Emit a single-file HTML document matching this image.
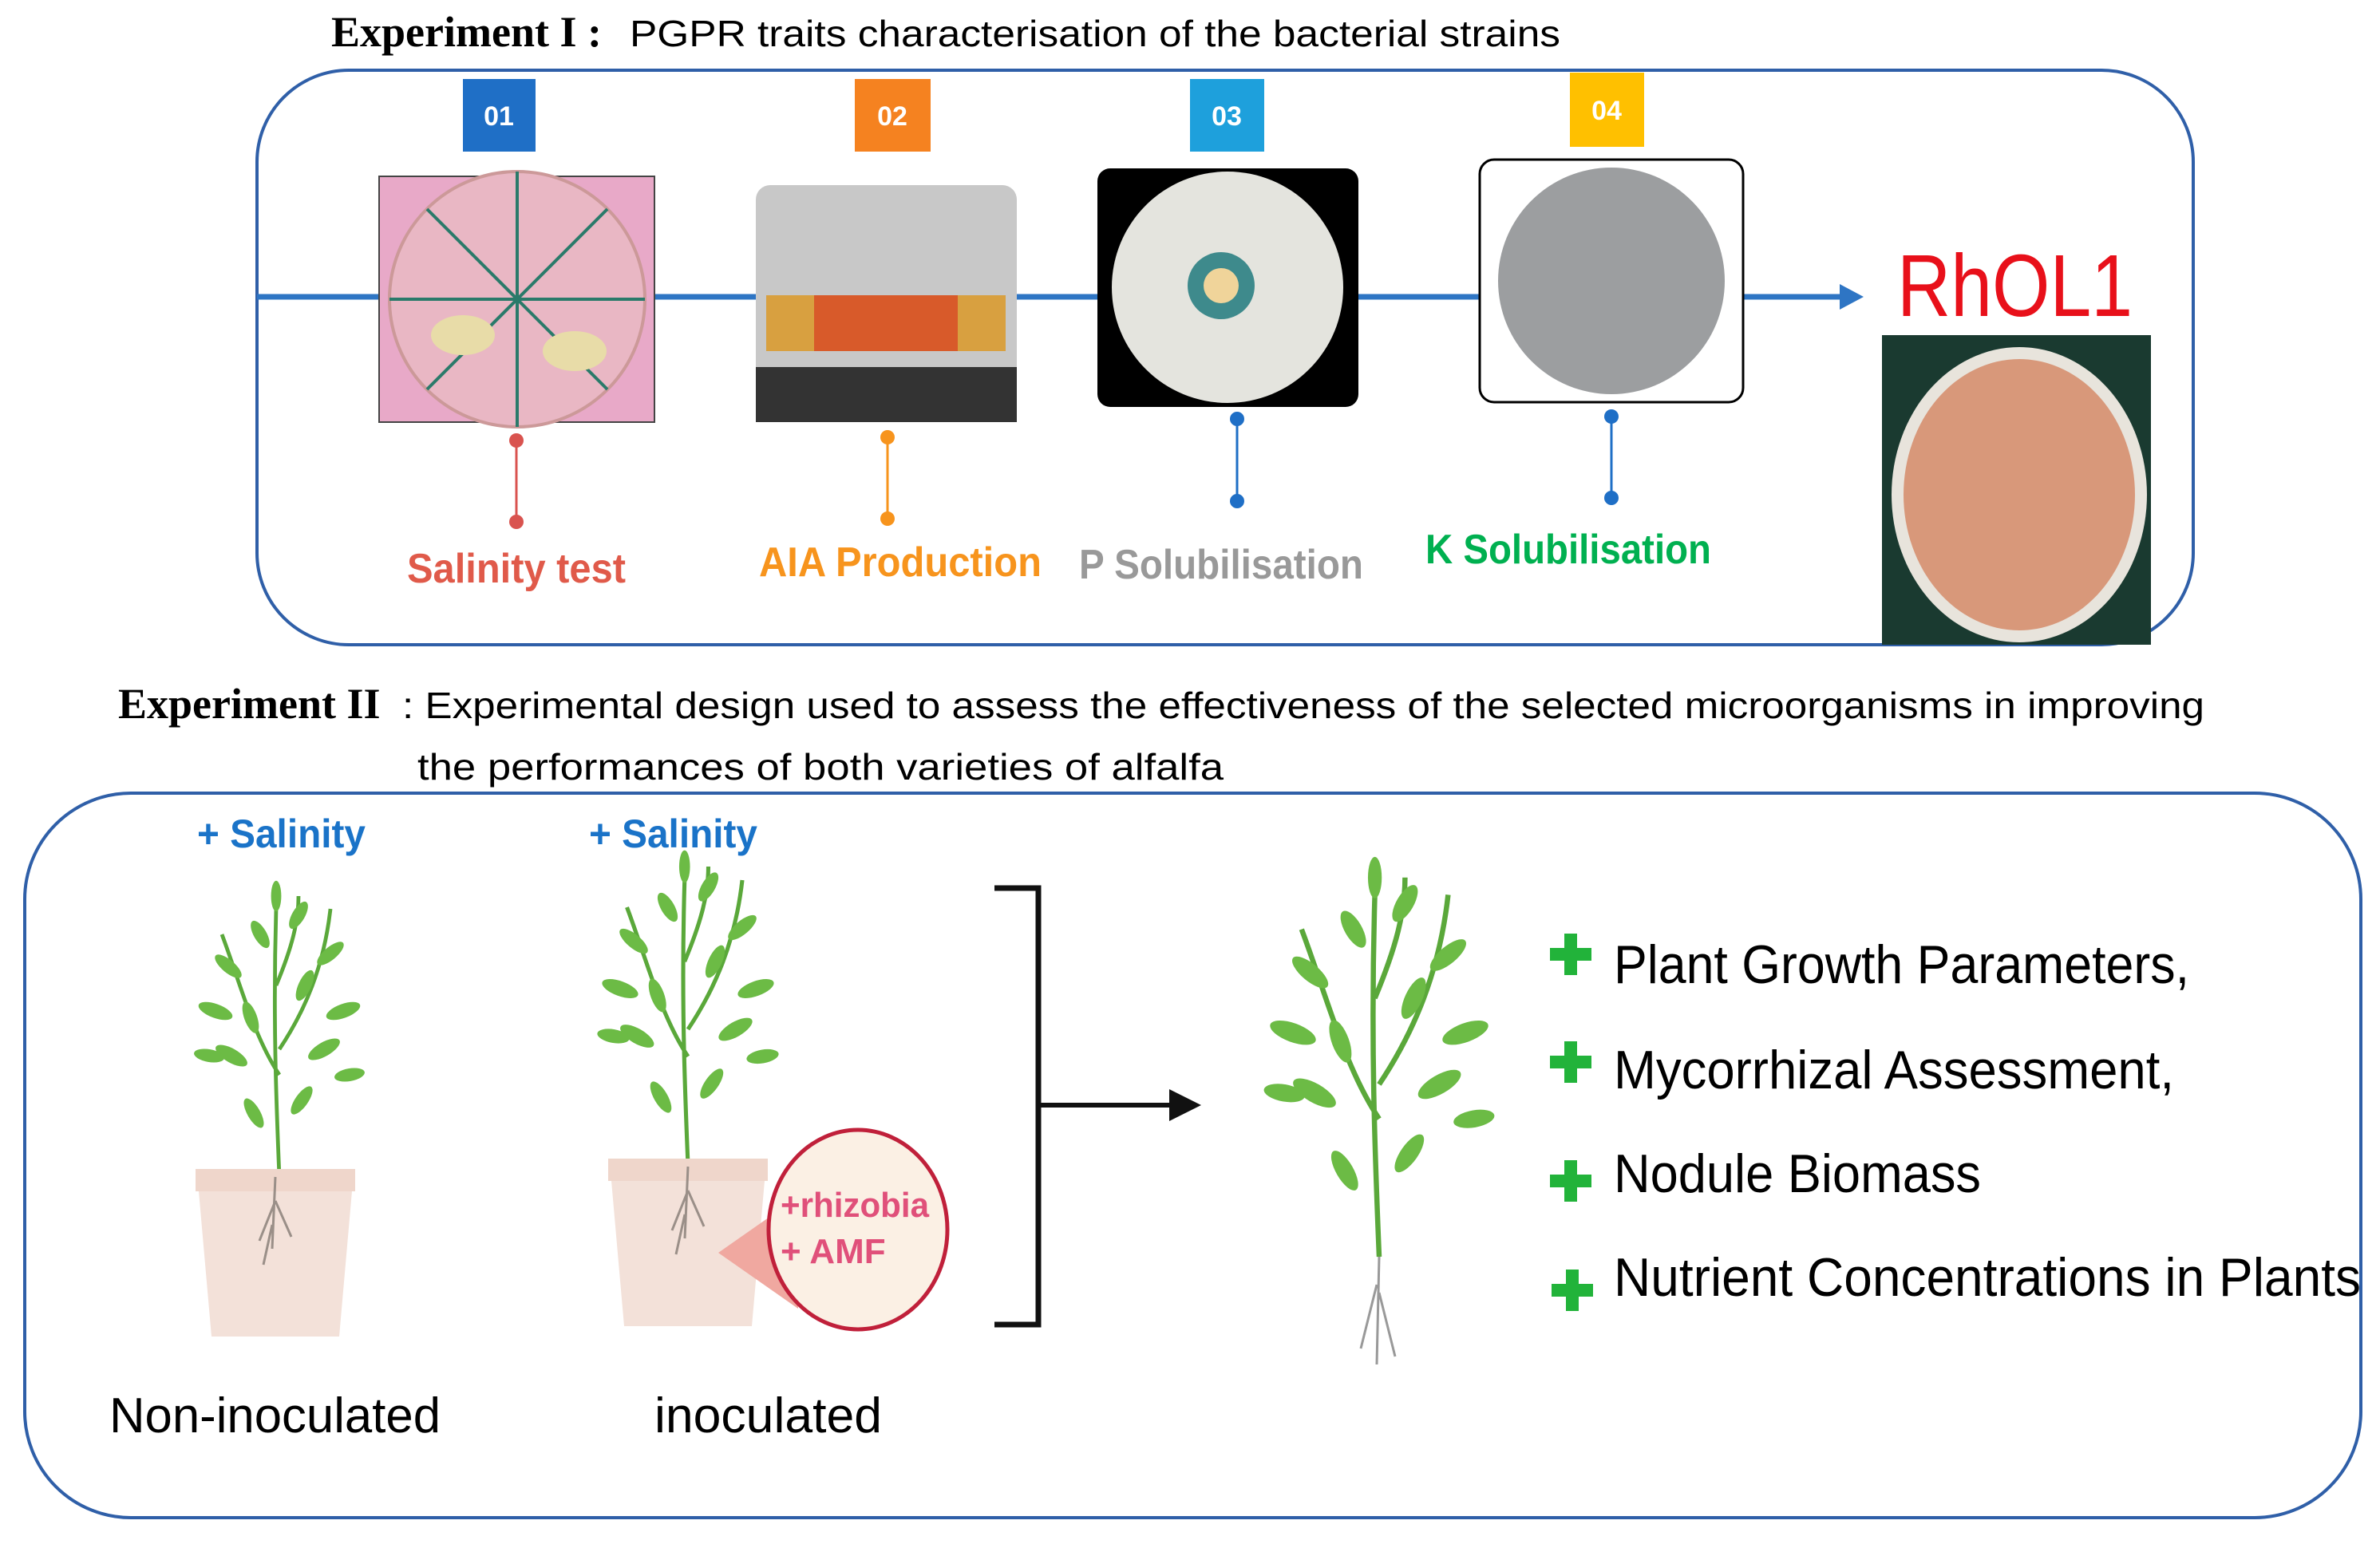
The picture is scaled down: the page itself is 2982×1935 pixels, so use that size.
<!DOCTYPE html>
<html><head><meta charset="utf-8"><style>
html,body{margin:0;padding:0;background:#fff;}
svg{display:block;}
text{font-family:"Liberation Sans",sans-serif;}
.ser{font-family:"Liberation Serif",serif;}
</style></head><body>
<svg width="2982" height="1935" viewBox="0 0 2982 1935" xmlns="http://www.w3.org/2000/svg">
<defs>
<g id="plant">
 <path d="M0,0 C-5,-120 -10,-250 -5,-420 M0,-160 C-40,-220 -60,-300 -90,-380 M0,-200 C40,-260 70,-330 80,-420 M-5,-300 C20,-360 30,-400 30,-440" stroke="#5aa83a" stroke-width="6" fill="none"/>
 <g fill="#6cbb45">
  <ellipse cx="-40" cy="-100" rx="10" ry="26" transform="rotate(-30 -40 -100)"/>
  <ellipse cx="35" cy="-120" rx="10" ry="26" transform="rotate(35 35 -120)"/>
  <ellipse cx="-75" cy="-190" rx="11" ry="28" transform="rotate(-60 -75 -190)"/>
  <ellipse cx="70" cy="-200" rx="11" ry="28" transform="rotate(60 70 -200)"/>
  <ellipse cx="-100" cy="-260" rx="11" ry="28" transform="rotate(-70 -100 -260)"/>
  <ellipse cx="100" cy="-260" rx="11" ry="28" transform="rotate(70 100 -260)"/>
  <ellipse cx="-45" cy="-250" rx="10" ry="26" transform="rotate(-20 -45 -250)"/>
  <ellipse cx="40" cy="-300" rx="10" ry="26" transform="rotate(25 40 -300)"/>
  <ellipse cx="-80" cy="-330" rx="10" ry="26" transform="rotate(-50 -80 -330)"/>
  <ellipse cx="80" cy="-350" rx="10" ry="26" transform="rotate(50 80 -350)"/>
  <ellipse cx="-30" cy="-380" rx="10" ry="24" transform="rotate(-30 -30 -380)"/>
  <ellipse cx="30" cy="-410" rx="10" ry="24" transform="rotate(30 30 -410)"/>
  <ellipse cx="-5" cy="-440" rx="8" ry="24"/>
  <ellipse cx="-110" cy="-190" rx="10" ry="24" transform="rotate(-80 -110 -190)"/>
  <ellipse cx="110" cy="-160" rx="10" ry="24" transform="rotate(80 110 -160)"/>
 </g>
</g>
<g id="pot">
 <path d="M-100,0 L100,0 L96,28 L80,210 L-80,210 L-96,28 Z" fill="#f3e1d9"/>
 <rect x="-100" y="0" width="200" height="28" fill="#efd6cb"/>
 <path d="M0,10 L-4,100 M0,40 L-20,90 M0,40 L20,85 M-4,70 L-15,120" stroke="#9a8f88" stroke-width="3" fill="none"/>
</g>
</defs>

<!-- Experiment I -->
<text x="415" y="58" class="ser" font-size="54" font-weight="bold">Experiment I :</text>
<text x="789" y="58" font-size="46" textLength="1166" lengthAdjust="spacingAndGlyphs">PGPR traits characterisation of the bacterial strains</text>
<rect x="322" y="88" width="2426" height="720" rx="115" fill="none" stroke="#2f5fa8" stroke-width="4"/>
<line x1="322" y1="372" x2="2310" y2="372" stroke="#2e75c4" stroke-width="7"/>
<polygon points="2305,356 2335,372 2305,388" fill="#2e75c4"/>

<rect x="580" y="99" width="91" height="91" fill="#1f6fc6"/><text x="625" y="157" text-anchor="middle" fill="#fff" font-size="34" font-weight="bold">01</text>
<rect x="1071" y="99" width="95" height="91" fill="#f58220"/><text x="1118" y="157" text-anchor="middle" fill="#fff" font-size="34" font-weight="bold">02</text>
<rect x="1491" y="99" width="93" height="91" fill="#1ea0dc"/><text x="1537" y="157" text-anchor="middle" fill="#fff" font-size="34" font-weight="bold">03</text>
<rect x="1967" y="91" width="93" height="93" fill="#ffc000"/><text x="2013" y="150" text-anchor="middle" fill="#fff" font-size="34" font-weight="bold">04</text>

<!-- plate 1 -->
<rect x="475" y="221" width="345" height="308" fill="#e8a9c8" stroke="#444" stroke-width="2"/>
<circle cx="648" cy="375" r="160" fill="#e9b7c4" stroke="#c99" stroke-width="4"/>
<g stroke="#2a7a6a" stroke-width="4"><line x1="648" y1="215" x2="648" y2="535"/><line x1="488" y1="375" x2="808" y2="375"/><line x1="535" y1="262" x2="761" y2="488"/><line x1="761" y1="262" x2="535" y2="488"/></g>
<ellipse cx="580" cy="420" rx="40" ry="25" fill="#e8dca8"/><ellipse cx="720" cy="440" rx="40" ry="25" fill="#e8dca8"/>
<!-- AIA -->
<rect x="947" y="232" width="327" height="297" rx="18" fill="#c8c8c8"/>
<rect x="947" y="460" width="327" height="69" fill="#333"/>
<rect x="960" y="370" width="300" height="70" fill="#d85a2a"/>
<rect x="960" y="370" width="60" height="70" fill="#d8a040"/><rect x="1200" y="370" width="60" height="70" fill="#d8a040"/>
<!-- P -->
<rect x="1375" y="211" width="327" height="299" rx="16" fill="#000"/>
<circle cx="1538" cy="360" r="145" fill="#e4e4de"/>
<circle cx="1530" cy="358" r="42" fill="#3e8a8c"/><circle cx="1530" cy="358" r="22" fill="#f0d49a"/>
<!-- K -->
<rect x="1854" y="200" width="330" height="304" rx="18" fill="#fff" stroke="#000" stroke-width="3"/>
<circle cx="2019" cy="352" r="142" fill="#9c9ea0"/>
<!-- connectors -->
<g stroke-width="3"><line x1="647" y1="552" x2="647" y2="654" stroke="#d9534f"/><line x1="1112" y1="548" x2="1112" y2="650" stroke="#f7941d"/><line x1="1550" y1="525" x2="1550" y2="628" stroke="#1f6fc6"/><line x1="2019" y1="522" x2="2019" y2="624" stroke="#1f6fc6"/></g>
<circle cx="647" cy="552" r="9" fill="#d9534f"/><circle cx="647" cy="654" r="9" fill="#d9534f"/>
<circle cx="1112" cy="548" r="9" fill="#f7941d"/><circle cx="1112" cy="650" r="9" fill="#f7941d"/>
<circle cx="1550" cy="525" r="9" fill="#1f6fc6"/><circle cx="1550" cy="628" r="9" fill="#1f6fc6"/>
<circle cx="2019" cy="522" r="9" fill="#1f6fc6"/><circle cx="2019" cy="624" r="9" fill="#1f6fc6"/>
<text x="510" y="730" font-size="52" font-weight="bold" fill="#e05a4a" textLength="274" lengthAdjust="spacingAndGlyphs">Salinity test</text>
<text x="951" y="722" font-size="52" font-weight="bold" fill="#f7941d" textLength="354" lengthAdjust="spacingAndGlyphs">AIA Production</text>
<text x="1352" y="725" font-size="52" font-weight="bold" fill="#999" textLength="356" lengthAdjust="spacingAndGlyphs">P Solubilisation</text>
<text x="1786" y="706" font-size="52" font-weight="bold" fill="#00b050" textLength="358" lengthAdjust="spacingAndGlyphs">K Solubilisation</text>
<!-- RhOL1 -->
<text x="2377" y="396" font-size="110" fill="#e8101a" textLength="295" lengthAdjust="spacingAndGlyphs">RhOL1</text>
<rect x="2358" y="420" width="337" height="388" fill="#1a3a30"/>
<ellipse cx="2530" cy="620" rx="160" ry="185" fill="#e8e4dc"/>
<ellipse cx="2530" cy="620" rx="145" ry="170" fill="#d8987a"/>

<!-- Experiment II -->
<text x="148" y="900" class="ser" font-size="54" font-weight="bold">Experiment II</text>
<text x="504" y="900" font-size="46" textLength="2258" lengthAdjust="spacingAndGlyphs">: Experimental design used to assess the effectiveness of the selected microorganisms in improving</text>
<text x="523" y="977" font-size="46" textLength="1010" lengthAdjust="spacingAndGlyphs">the performances of both varieties of alfalfa</text>
<rect x="31" y="994" width="2927" height="908" rx="133" fill="none" stroke="#2f5fa8" stroke-width="4"/>
<text x="247" y="1062" font-size="50" font-weight="bold" fill="#1a73c8" textLength="211" lengthAdjust="spacingAndGlyphs">+ Salinity</text>
<text x="738" y="1062" font-size="50" font-weight="bold" fill="#1a73c8" textLength="211" lengthAdjust="spacingAndGlyphs">+ Salinity</text>
<use href="#plant" transform="translate(350,1475) scale(0.8)"/>
<g transform="translate(345,1465)"><use href="#pot"/></g>
<use href="#plant" transform="translate(862,1460) scale(0.85)"/>
<g transform="translate(862,1452)"><use href="#pot"/></g>
<polygon points="900,1570 1000,1500 1000,1640" fill="#f0a8a0"/>
<ellipse cx="1075" cy="1541" rx="112" ry="125" fill="#fbf0e4" stroke="#c0203a" stroke-width="5"/>
<text x="978" y="1525" font-size="44" font-weight="bold" fill="#e0507a" textLength="186" lengthAdjust="spacingAndGlyphs">+rhizobia</text>
<text x="978" y="1583" font-size="44" font-weight="bold" fill="#e0507a">+ AMF</text>
<text x="137" y="1795" font-size="62" textLength="415" lengthAdjust="spacingAndGlyphs">Non-inoculated</text>
<text x="820" y="1795" font-size="62" textLength="285" lengthAdjust="spacingAndGlyphs">inoculated</text>
<!-- bracket -->
<path d="M1246,1113 L1301,1113 L1301,1660 L1246,1660" fill="none" stroke="#111" stroke-width="7"/>
<line x1="1301" y1="1385" x2="1470" y2="1385" stroke="#111" stroke-width="6"/>
<polygon points="1465,1365 1505,1385 1465,1405" fill="#111"/>
<use href="#plant" transform="translate(1728,1575) scale(1.08)"/>
<path d="M1728,1575 L1725,1710 M1725,1610 L1705,1690 M1728,1620 L1748,1700" stroke="#999" stroke-width="3" fill="none"/>
<!-- list -->
<g fill="#22b33a">
<rect x="1960" y="1170" width="16" height="52"/><rect x="1942" y="1188" width="52" height="16"/>
<rect x="1960" y="1305" width="16" height="52"/><rect x="1942" y="1323" width="52" height="16"/>
<rect x="1960" y="1454" width="16" height="52"/><rect x="1942" y="1472" width="52" height="16"/>
<rect x="1962" y="1591" width="16" height="52"/><rect x="1944" y="1609" width="52" height="16"/>
</g>
<g class="ser" font-size="68">
<text x="2022" y="1232" textLength="721" lengthAdjust="spacingAndGlyphs">Plant Growth Parameters,</text>
<text x="2022" y="1364" textLength="702" lengthAdjust="spacingAndGlyphs">Mycorrhizal Assessment,</text>
<text x="2022" y="1494" textLength="460" lengthAdjust="spacingAndGlyphs">Nodule Biomass</text>
<text x="2022" y="1624" textLength="936" lengthAdjust="spacingAndGlyphs">Nutrient Concentrations in Plants</text>
</g>
</svg>
</body></html>
